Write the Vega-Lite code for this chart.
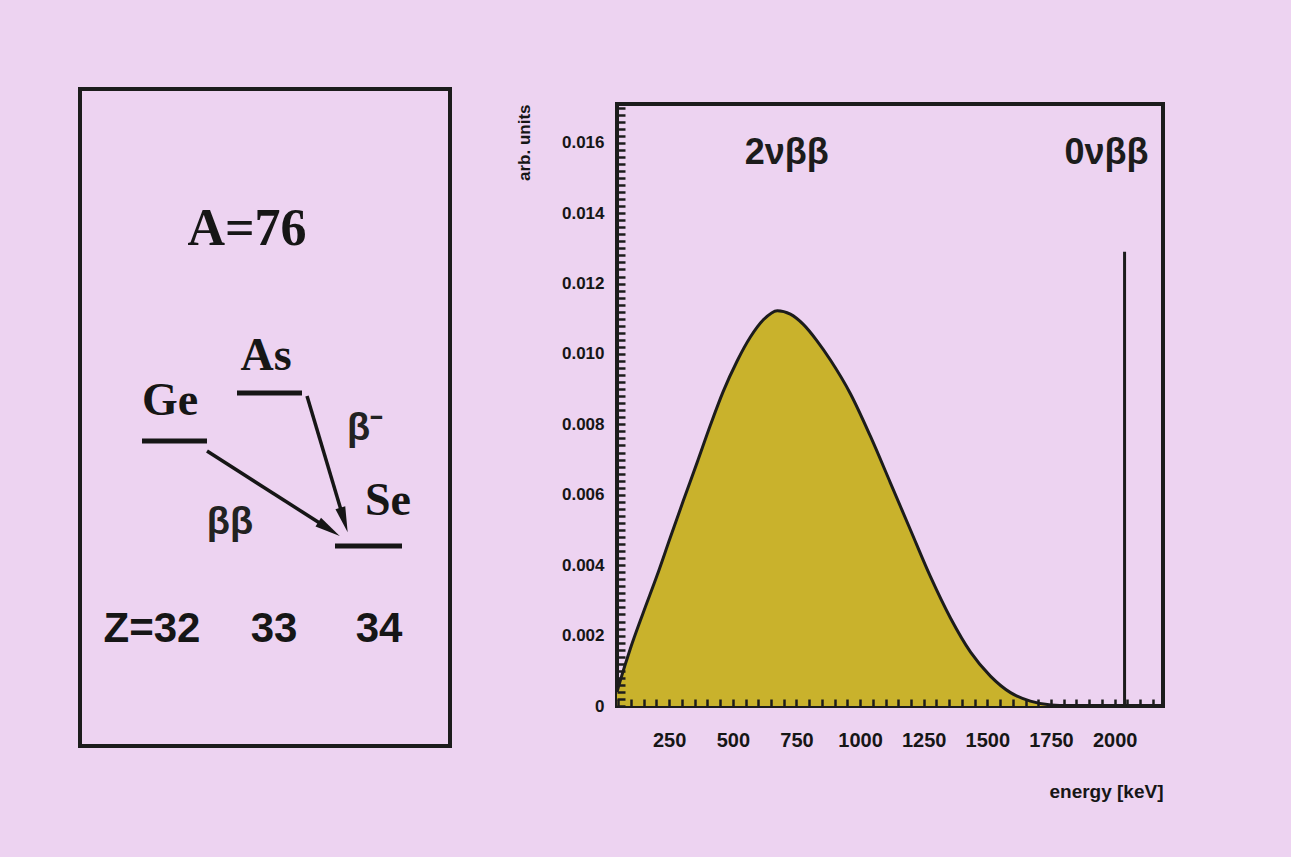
{
  "$schema": "https://vega.github.io/schema/vega-lite/v6.json",
  "background": "#edd3f1",
  "padding": {"left": 78, "top": 86, "right": 140, "bottom": 80},
  "spacing": 61,
  "config": {
    "view": {"stroke": "#1c1c1c", "strokeWidth": 4},
    "font": "Liberation Sans"
  },
  "datasets": {
    "frame": [{"x1": 0, "x2": 37, "y1": 0, "y2": 65.7}],
    "levels": [
      {"nucleus": "Ge", "x1": 6.2, "x2": 12.7, "y": 30.5},
      {"nucleus": "As", "x1": 15.7, "x2": 22.2, "y": 35.3},
      {"nucleus": "Se", "x1": 25.5, "x2": 32.2, "y": 20.0}
    ],
    "arrows": [
      {"decay": "ββ", "x1": 12.7, "y1": 29.5, "x2": 24.9, "y2": 21.7, "angle": 122.7},
      {"decay": "β⁻", "x1": 22.7, "y1": 35.0, "x2": 26.4, "y2": 22.6, "angle": 163.3}
    ],
    "title": [{"label": "A=76", "x": 16.7, "y": 51.7}],
    "symbols": [
      {"label": "Ge", "x": 9.0, "y": 34.5},
      {"label": "As", "x": 18.6, "y": 39.0},
      {"label": "Se", "x": 30.8, "y": 24.5}
    ],
    "decays": [
      {"label": "β⁻", "x": 28.5, "y": 31.7},
      {"label": "ββ", "x": 15.0, "y": 22.3}
    ],
    "charges": [
      {"label": "Z=32", "x": 7.2, "y": 11.7},
      {"label": "33", "x": 19.4, "y": 11.7},
      {"label": "34", "x": 29.9, "y": 11.7}
    ],
    "spectrum": [
      {"energy": 45, "value": 0.0004},
      {"energy": 57, "value": 0.0007},
      {"energy": 97, "value": 0.00162},
      {"energy": 148, "value": 0.00265},
      {"energy": 203, "value": 0.00372},
      {"energy": 254, "value": 0.00478},
      {"energy": 305, "value": 0.00582},
      {"energy": 360, "value": 0.00692},
      {"energy": 411, "value": 0.00796},
      {"energy": 462, "value": 0.00893},
      {"energy": 517, "value": 0.00980},
      {"energy": 569, "value": 0.01048},
      {"energy": 620, "value": 0.01097},
      {"energy": 675, "value": 0.01123},
      {"energy": 726, "value": 0.01113},
      {"energy": 777, "value": 0.01084},
      {"energy": 830, "value": 0.01038},
      {"energy": 884, "value": 0.00982},
      {"energy": 962, "value": 0.00887},
      {"energy": 1040, "value": 0.00767},
      {"energy": 1119, "value": 0.00634},
      {"energy": 1198, "value": 0.00500},
      {"energy": 1276, "value": 0.00368},
      {"energy": 1355, "value": 0.00250},
      {"energy": 1434, "value": 0.00153},
      {"energy": 1512, "value": 0.00085},
      {"energy": 1591, "value": 0.00038},
      {"energy": 1669, "value": 0.00014},
      {"energy": 1750, "value": 0.00003},
      {"energy": 1850, "value": 0.0},
      {"energy": 2030, "value": 0.0}
    ],
    "peak": [{"energy": 2039, "value": 0.0129}],
    "modes": [
      {"label": "2νββ", "energy": 712, "value": 0.0157},
      {"label": "0νββ", "energy": 1968, "value": 0.0157}
    ]
  },
  "hconcat": [
    {
      "width": 370,
      "height": 602,
      "view": {"stroke": null},
      "encoding": {
        "x": {"type": "quantitative", "scale": {"domain": [0, 37], "nice": false, "zero": false}, "axis": null},
        "y": {"type": "quantitative", "scale": {"domain": [4.0, 64.2], "nice": false, "zero": false}, "axis": null}
      },
      "layer": [
        {
          "data": {"name": "frame"},
          "mark": {"type": "rect", "filled": false, "stroke": "#1c1c1c", "strokeWidth": 4},
          "encoding": {
            "x": {"field": "x1", "type": "quantitative"},
            "x2": {"field": "x2"},
            "y": {"field": "y1", "type": "quantitative"},
            "y2": {"field": "y2"}
          }
        },
        {
          "data": {"name": "levels"},
          "mark": {"type": "rule", "strokeWidth": 5, "color": "#161616"},
          "encoding": {
            "x": {"field": "x1", "type": "quantitative"},
            "x2": {"field": "x2"},
            "y": {"field": "y", "type": "quantitative"}
          }
        },
        {
          "data": {"name": "arrows"},
          "mark": {"type": "rule", "strokeWidth": 3.5, "color": "#161616"},
          "encoding": {
            "x": {"field": "x1", "type": "quantitative"},
            "x2": {"field": "x2"},
            "y": {"field": "y1", "type": "quantitative"},
            "y2": {"field": "y2"}
          }
        },
        {
          "data": {"name": "arrows"},
          "mark": {"type": "point", "shape": "M0,-1L0.4,1L-0.4,1Z", "filled": true, "opacity": 1, "color": "#161616", "size": 650},
          "encoding": {
            "x": {"field": "x2", "type": "quantitative"},
            "y": {"field": "y2", "type": "quantitative"},
            "angle": {"field": "angle", "type": "quantitative", "scale": null}
          }
        },
        {
          "data": {"name": "title"},
          "mark": {"type": "text", "font": "Liberation Serif", "fontWeight": "bold", "fontSize": 52, "color": "#161616", "baseline": "middle"},
          "encoding": {
            "x": {"field": "x", "type": "quantitative"},
            "y": {"field": "y", "type": "quantitative"},
            "text": {"field": "label"}
          }
        },
        {
          "data": {"name": "symbols"},
          "mark": {"type": "text", "font": "Liberation Serif", "fontWeight": "bold", "fontSize": 46, "color": "#161616", "baseline": "middle"},
          "encoding": {
            "x": {"field": "x", "type": "quantitative"},
            "y": {"field": "y", "type": "quantitative"},
            "text": {"field": "label"}
          }
        },
        {
          "data": {"name": "decays"},
          "mark": {"type": "text", "font": "Liberation Sans", "fontWeight": "bold", "fontSize": 38, "color": "#222222", "baseline": "middle"},
          "encoding": {
            "x": {"field": "x", "type": "quantitative"},
            "y": {"field": "y", "type": "quantitative"},
            "text": {"field": "label"}
          }
        },
        {
          "data": {"name": "charges"},
          "mark": {"type": "text", "font": "Liberation Sans", "fontWeight": "bold", "fontSize": 42, "color": "#161616", "baseline": "middle"},
          "encoding": {
            "x": {"field": "x", "type": "quantitative"},
            "y": {"field": "y", "type": "quantitative"},
            "text": {"field": "label"}
          }
        }
      ]
    },
    {
      "width": 546,
      "height": 602,
      "encoding": {
        "x": {
          "type": "quantitative",
          "scale": {"domain": [45, 2190], "nice": false, "zero": false},
          "axis": {
            "title": "energy [keV]",
            "titleAnchor": "end",
            "titleFont": "Liberation Sans",
            "titleFontWeight": "bold",
            "titleFontSize": 19,
            "titleColor": "#161616",
            "titlePadding": 32,
            "tickCount": 43,
            "labelExpr": "datum.value % 250 === 0 ? format(datum.value, 'd') : ''",
            "labelOverlap": false,
            "labelFont": "Liberation Sans",
            "labelFontWeight": "bold",
            "labelFontSize": 20,
            "labelColor": "#161616",
            "labelPadding": 31,
            "labelFlush": false,
            "tickSize": -7,
            "tickWidth": 2.5,
            "tickColor": "#1c1c1c",
            "domain": false,
            "grid": false,
            "zindex": 1,
            "encode": {"ticks": {"update": {"y2": {"signal": "datum.value % 250 === 0 ? -14 : -7"}}}}
          }
        },
        "y": {
          "type": "quantitative",
          "scale": {"domain": [0, 0.0171], "nice": false, "zero": false},
          "axis": {
            "title": "arb. units",
            "titleAnchor": "end",
            "titleFont": "Liberation Sans",
            "titleFontWeight": "bold",
            "titleFontSize": 17,
            "titleColor": "#161616",
            "titlePadding": 28,
            "tickCount": 85,
            "labelExpr": "round(datum.value * 5000) % 10 === 0 ? (datum.value === 0 ? '0' : format(datum.value, '.3f')) : ''",
            "labelOverlap": false,
            "labelFont": "Liberation Sans",
            "labelFontWeight": "bold",
            "labelFontSize": 17,
            "labelColor": "#161616",
            "labelPadding": 21,
            "labelFlush": false,
            "tickSize": -8,
            "tickWidth": 2.5,
            "tickColor": "#1c1c1c",
            "domain": false,
            "grid": false,
            "zindex": 1,
            "encode": {"ticks": {"update": {"x2": {"signal": "round(datum.value * 5000) % 10 === 0 ? 15 : 8"}}}}
          }
        }
      },
      "layer": [
        {
          "data": {"name": "spectrum"},
          "mark": {"type": "area", "interpolate": "monotone", "color": "#c9b22c", "opacity": 1, "line": {"color": "#1c1c1c", "strokeWidth": 3}},
          "encoding": {
            "x": {"field": "energy"},
            "y": {"field": "value"}
          }
        },
        {
          "data": {"name": "peak"},
          "mark": {"type": "rule", "color": "#1c1c1c", "strokeWidth": 3},
          "encoding": {
            "x": {"field": "energy"},
            "y": {"field": "value"},
            "y2": {"datum": 0}
          }
        },
        {
          "data": {"name": "modes"},
          "mark": {"type": "text", "font": "Liberation Sans", "fontWeight": "bold", "fontSize": 36, "color": "#1c1c1c", "baseline": "middle"},
          "encoding": {
            "x": {"field": "energy"},
            "y": {"field": "value"},
            "text": {"field": "label"}
          }
        }
      ]
    }
  ]
}
